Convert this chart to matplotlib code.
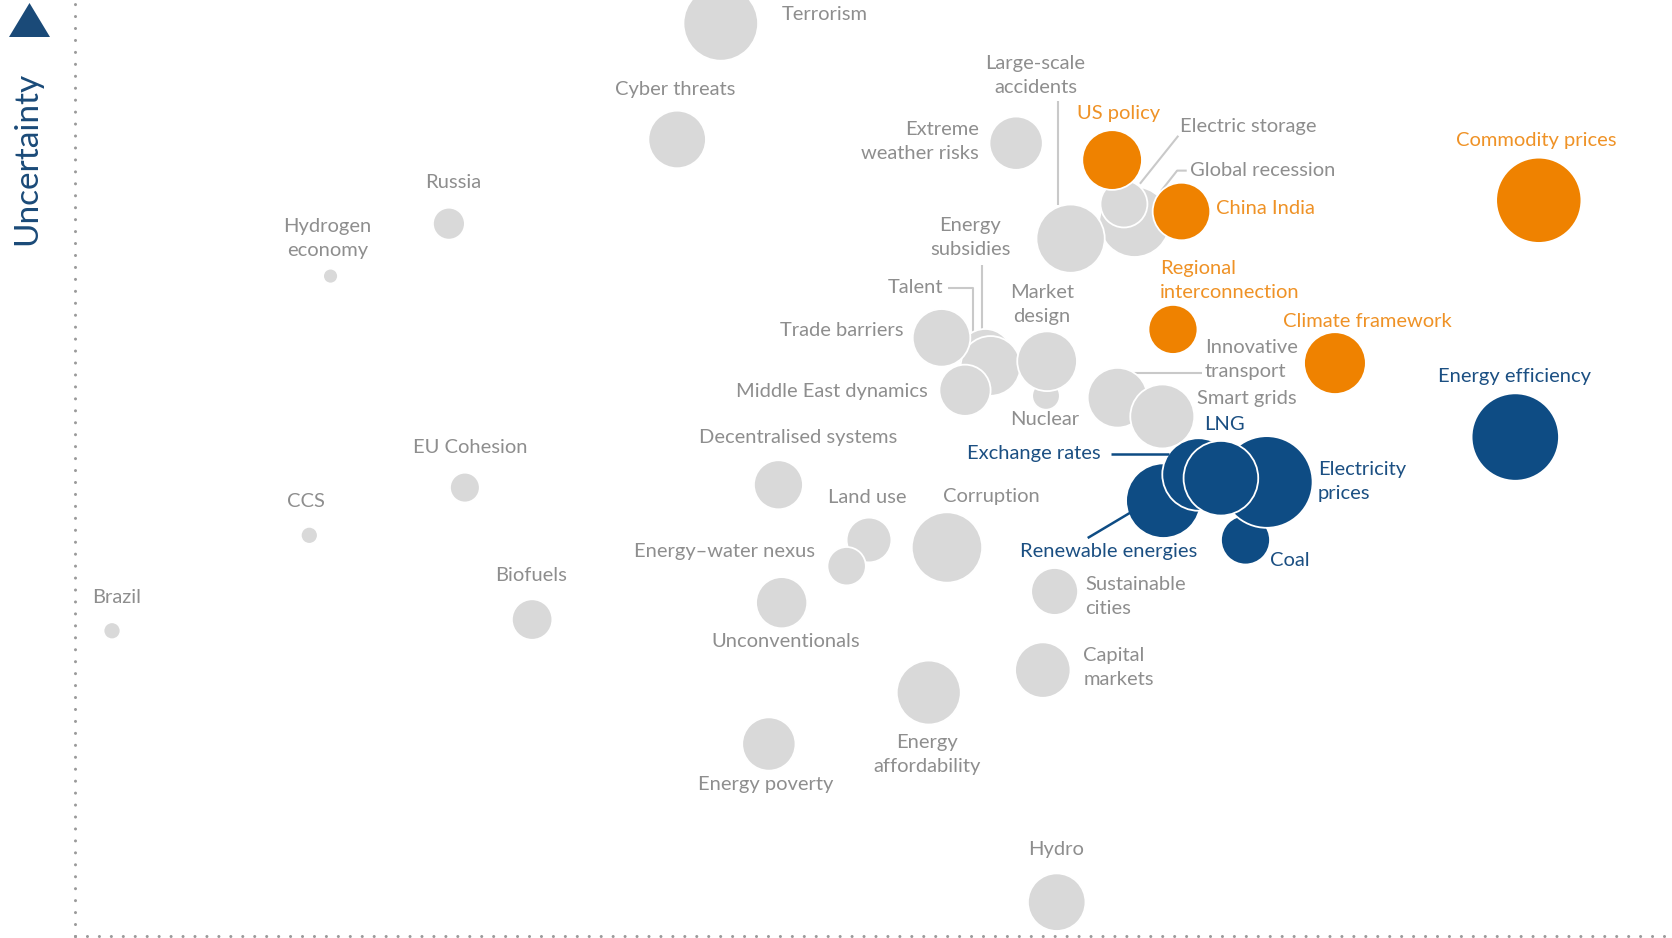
import matplotlib
matplotlib.use("Agg")
import matplotlib.pyplot as plt
import matplotlib.transforms as mtransforms
from matplotlib.patches import Polygon
from matplotlib.lines import Line2D

plt.rcParams['font.family'] = ['Lato', 'DejaVu Sans']

# ---------------- data (impact 0-100, uncertainty 0-100, relevance) ----------------
gray_names = ["Global recession", "Electric storage", "Large-scale\naccidents", "Terrorism",
              "Cyber threats", "Russia", "Hydrogen\neconomy", "Extreme\nweather risks",
              "Talent", "Energy\nsubsidies", "Trade barriers", "Middle East dynamics",
              "Nuclear", "Market\ndesign", "Innovative\ntransport", "Smart grids",
              "Decentralised systems", "EU Cohesion", "CCS", "Brazil", "Biofuels",
              "Land use", "Energy\u2013water nexus", "Corruption", "Unconventionals",
              "Sustainable\ncities", "Capital\nmarkets", "Energy\naffordability",
              "Energy poverty", "Hydro"]
gray_x = [66.35, 65.69, 62.35, 40.45, 37.72, 23.43, 16.02, 58.94, 57.01, 57.34, 54.27, 55.74,
          60.81, 60.88, 65.29, 68.09, 44.06, 24.43, 14.69, 2.34, 28.64, 49.73, 48.33, 54.61,
          44.26, 61.35, 60.61, 53.47, 43.46, 61.48]
gray_y = [76.3, 78.2, 74.5, 97.5, 85.1, 76.1, 70.5, 84.7, 62.0, 60.9, 63.9, 58.3, 57.7, 61.4,
          57.5, 55.5, 48.2, 47.9, 42.8, 32.6, 33.8, 42.3, 39.5, 41.5, 35.6, 36.8, 28.4, 26.0,
          20.5, 3.6]
gray_rel = [33, 22, 32, 35, 27, 15, 7, 25, 25, 28, 27, 24, 13, 28, 28, 30, 23, 14, 8, 8, 19,
            21, 18, 33, 24, 22, 26, 30, 25, 27]

orange_names = ["US policy", "China India", "Regional\ninterconnection", "Climate framework",
                "Commodity prices"]
orange_x = [64.95, 69.29, 68.76, 78.90, 91.66]
orange_y = [82.9, 77.4, 64.8, 61.2, 78.6]
orange_rel = [28, 27, 23, 29, 40]

blue_names = ["Coal", "Renewable energies", "Electricity\nprices", "Exchange rates", "LNG",
              "Energy efficiency"]
blue_x = [73.30, 68.16, 74.63, 70.36, 71.76, 90.19]
blue_y = [42.3, 46.5, 48.5, 49.3, 48.9, 53.3]
blue_rel = [23, 35, 43, 34, 35, 41]

# ---------------- layout / style ----------------
GRAY_FILL, GRAY_TEXT, GRAY_LINE = "#d9d9d9", "#8e8e8e", "#c9c9c9"
ORANGE_FILL, ORANGE_TEXT = "#ef8200", "#ef9226"
BLUE_FILL, BLUE_TEXT = "#0e4c84", "#1b4f82"
K = 1.0663 * 0.72        # reference-pixel -> points
FS = 14.5

# label placement: name -> (dx, dy_down, ha)   (in reference pixels from bubble centre)
label_pos = {
    "Global recession": (52, -48, "left"), "Electric storage": (53, -73, "left"),
    "Large-scale\naccidents": (-33, -153, "center"), "Terrorism": (57, -8, "left"),
    "Cyber threats": (-2, -47, "center"), "Russia": (4, -39, "center"),
    "Hydrogen\neconomy": (-3, -35, "center"), "Extreme\nweather risks": (-35, -2, "right"),
    "Talent": (-39, -64, "right"), "Energy\nsubsidies": (-19, -120, "center"),
    "Trade barriers": (-36, -7, "right"), "Middle East dynamics": (-35, 1, "right"),
    "Nuclear": (-1, 22, "center"), "Market\ndesign": (-5, -53, "center"),
    "Innovative\ntransport": (82, -36, "left"), "Smart grids": (33, -17, "left"),
    "Decentralised systems": (18, -44, "center"), "EU Cohesion": (5, -38, "center"),
    "CCS": (-3, -32, "center"), "Brazil": (4, -31, "center"), "Biofuels": (-1, -41, "center"),
    "Land use": (-2, -40, "center"), "Energy\u2013water nexus": (-30, -14, "right"),
    "Corruption": (42, -48, "center"), "Unconventionals": (4, 36, "center"),
    "Sustainable\ncities": (29, 5, "left"), "Capital\nmarkets": (38, -2, "left"),
    "Energy\naffordability": (-2, 58, "center"), "Energy poverty": (-3, 38, "center"),
    "Hydro": (-1, -49, "center"),
    "US policy": (6, -44, "center"), "China India": (32, -3, "left"),
    "Regional\ninterconnection": (-12, -46, "left"), "Climate framework": (30, -39, "center"),
    "Commodity prices": (-2, -56, "center"),
    "Coal": (23, 19, "left"), "Renewable energies": (-51, 48, "center"),
    "Electricity\nprices": (48, 0, "left"), "Exchange rates": (-92, -20, "right"),
    "LNG": (3, -50, "center"), "Energy efficiency": (-1, -57, "center"),
}

# leader lines: name -> list of (dx, dy_down) points relative to bubble centre
leaders = {
    "Large-scale\naccidents": [(-12, -129), (-12, -32)],
    "Electric storage": [(51, -64), (15, -19)],
    "Global recession": [(49, -48), (40, -48), (25, -29)],
    "Energy\nsubsidies": [(-8, -95), (-8, -25)],
    "Talent": [(-35, -63), (-12, -63), (-12, -18)],
    "Innovative\ntransport": [(79, -23), (14, -23)],
    "Exchange rates": [(-82, -19), (-28, -19)],
    "Renewable energies": [(-71, 35), (-29, 10)],
}

fig = plt.figure(figsize=(16.72, 9.38), dpi=100)
ax = fig.add_axes([70 / 1568, 2 / 880, 1498 / 1568, 878 / 880])
ax.set_xlim(0, 100)
ax.set_ylim(0, 100)
ax.set_xticks([])
ax.set_yticks([])
for side in ["top", "right"]:
    ax.spines[side].set_visible(False)
for side in ["left", "bottom"]:
    sp = ax.spines[side]
    sp.set_color("#9a9a9a")
    sp.set_linewidth(2.2)
    sp.set_linestyle((0, (0.01, 3.9)))
    sp.set_capstyle("round")


def draw_group(names, xs, ys, rel, fill, tcolor, lcolor):
    sizes = [(2 * r * K) ** 2 for r in rel]
    ax.scatter(xs, ys, s=sizes, c=fill, edgecolors="white", linewidths=1.3,
               clip_on=False, zorder=2)
    for n, x, y in zip(names, xs, ys):
        base = mtransforms.ScaledTranslation(x, y, ax.transData)
        if n in leaders:
            pts = leaders[n]
            tr = mtransforms.Affine2D().scale(K / 72.0, -K / 72.0) + fig.dpi_scale_trans + base
            ax.add_line(Line2D([p[0] for p in pts], [p[1] for p in pts], transform=tr,
                               color=lcolor, lw=1.5 if lcolor != BLUE_FILL else 1.8,
                               zorder=1 if lcolor != BLUE_FILL else 3,
                               clip_on=False, solid_capstyle="butt"))
        dx, dy, ha = label_pos[n]
        ax.annotate(n, (x, y), xytext=(dx * K, -dy * K), textcoords="offset points",
                    ha=ha, va="center", multialignment=ha, fontsize=FS, color=tcolor,
                    linespacing=1.5, zorder=4, annotation_clip=False)


draw_group(gray_names, gray_x, gray_y, gray_rel, GRAY_FILL, GRAY_TEXT, GRAY_LINE)
draw_group(orange_names, orange_x, orange_y, orange_rel, ORANGE_FILL, ORANGE_TEXT, GRAY_LINE)
draw_group(blue_names, blue_x, blue_y, blue_rel, BLUE_FILL, BLUE_TEXT, BLUE_FILL)

# axis decoration: arrow head + axis title
fig.patches.append(Polygon([[9 / 1672, 1 - 37 / 938], [50 / 1672, 1 - 37 / 938],
                            [29.5 / 1672, 1 - 3 / 938]], closed=True,
                           transform=fig.transFigure, facecolor="#1a4a78", edgecolor="none"))
fig.text(27 / 1672, 1 - 158 / 938, "Uncertainty", rotation=90, ha="center", va="center",
         fontsize=24, color="#1a4a78")

fig.savefig("out.png", dpi=100, facecolor="white")
